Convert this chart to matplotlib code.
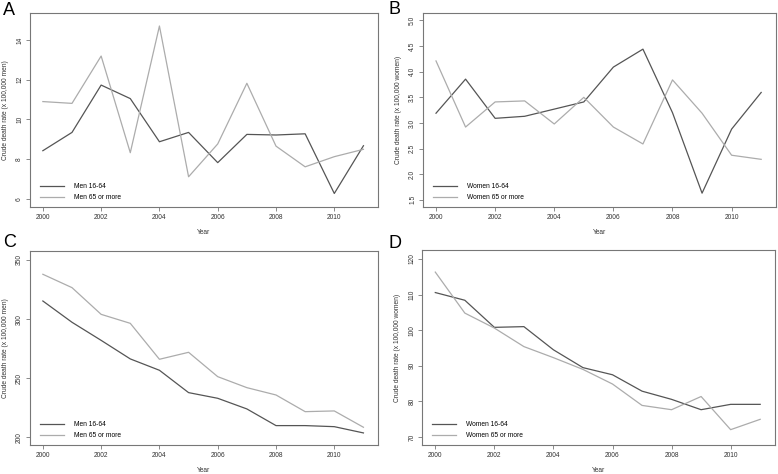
import numpy as np
import matplotlib.pyplot as plt

plt.rcParams['font.family'] = ['Liberation Sans', 'DejaVu Sans']

years = np.arange(2000, 2012)

# Panel A: men, crude death rate
men_young_a = [8.43, 9.35, 11.73, 11.05, 8.88, 9.35, 7.83, 9.25, 9.22, 9.28, 6.28, 8.68]
men_old_a = [10.9, 10.81, 13.19, 8.33, 14.70, 7.12, 8.77, 11.82, 8.66, 7.62, 8.13, 8.50]

# Panel B: women
women_young_b = [3.19, 3.855, 3.09, 3.13, 3.27, 3.41, 4.09, 4.44, 3.20, 1.63, 2.88, 3.595]
women_old_b = [4.21, 2.92, 3.41, 3.43, 2.98, 3.50, 2.92, 2.59, 3.84, 3.19, 2.37, 2.29]

# Panel C: men
men_young_c = [315.3, 297.3, 282.0, 266.3, 256.7, 237.8, 233.0, 224.0, 209.9, 209.9, 209.0, 203.7]
men_old_c = [337.9, 326.6, 304.0, 296.4, 266.0, 271.9, 251.3, 242.0, 235.8, 221.7, 222.3, 208.5]

# Panel D: women
women_young_d = [110.56, 108.4, 100.8, 101.0, 94.5, 89.5, 87.5, 82.9, 80.6, 77.7, 79.2, 79.2]
women_old_d = [116.3, 104.8, 100.6, 95.4, 92.3, 89.0, 84.9, 78.9, 77.7, 81.4, 72.1, 75.0]

W, H = 778.0, 474.0

panels = [
    ("A", (3, 2), [0.0386, 0.5633, 0.4469, 0.4087], men_young_a, men_old_a,
     ("Men 16-64", "Men 65 or more"), "Crude death rate (x 100,000 men)",
     (5.6, 15.34), [6, 8, 10, 12, 14], "%d"),
    ("B", (389, 1), [0.5437, 0.5633, 0.4533, 0.4087], women_young_b, women_old_b,
     ("Women 16-64", "Women 65 or more"), "Crude death rate (x 100,000 women)",
     (1.36, 5.14), [1.5, 2.0, 2.5, 3.0, 3.5, 4.0, 4.5, 5.0], "%.1f"),
    ("C", (3, 234), [0.0386, 0.0612, 0.4469, 0.4093], men_young_c, men_old_c,
     ("Men 16-64", "Men 65 or more"), "Crude death rate (x 100,000 men)",
     (193.5, 357.6), [200, 250, 300, 350], "%d"),
    ("D", (389, 235), [0.5428, 0.0612, 0.4529, 0.4114], women_young_d, women_old_d,
     ("Women 16-64", "Women 65 or more"), "Crude death rate (x 100,000 women)",
     (67.8, 122.5), [70, 80, 90, 100, 110, 120], "%d"),
]

dark = "#555555"
light = "#acacac"
frame = "#777777"

fig = plt.figure(figsize=(7.78, 4.74), dpi=100)

for letter, lpos, rect, young, old, names, ylab, ylim, yticks, fmt in panels:
    ax = fig.add_axes(rect)
    a, = ax.plot(years, young, color=dark, lw=0.9)
    b, = ax.plot(years, old, color=light, lw=0.9)
    ax.set_xlim(1999.56, 2011.49)
    ax.set_ylim(*ylim)
    ax.set_xticks([2000, 2002, 2004, 2006, 2008, 2010])
    ax.set_yticks(yticks)
    ax.set_yticklabels([fmt % t for t in yticks], rotation=90, va="center")
    ax.tick_params(labelsize=4.8, length=3, width=0.6, color=frame,
                   labelcolor="#333333", pad=2)
    for s in ax.spines.values():
        s.set_color(frame)
        s.set_linewidth(0.8)
    ax.set_xlabel("Year", fontsize=4.8, color="#333333", labelpad=6)
    ax.set_ylabel(ylab, fontsize=4.8, color="#333333", labelpad=5)
    ax.legend((a, b), names, loc="lower left", frameon=False, fontsize=4.8,
              handlelength=3.6, handletextpad=1.5, labelspacing=0.55,
              borderaxespad=0.5, bbox_to_anchor=(0.01, 0.0))
    fig.text(lpos[0] / W, 1 - lpos[1] / H, letter, fontsize=13,
             va="top", ha="left")

fig.savefig("out.png", dpi=100)
